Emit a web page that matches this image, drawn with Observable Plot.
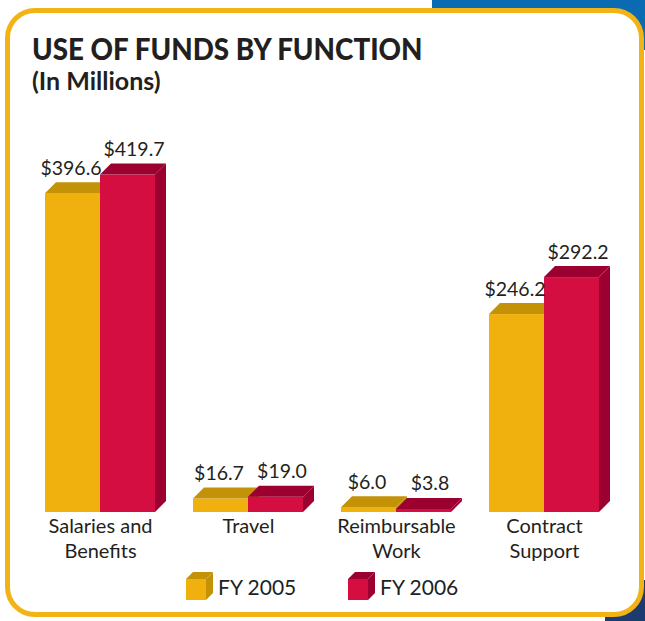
<!DOCTYPE html>
<html><head><meta charset="utf-8">
<script src="https://cdn.jsdelivr.net/npm/d3@7"></script>
<script src="https://cdn.jsdelivr.net/npm/@observablehq/plot@0.6"></script>
<style>
html,body{margin:0;padding:0;}
body{width:645px;height:621px;position:relative;overflow:hidden;background:#fff;font-family:Lato,"Open Sans",sans-serif;color:#231f20;}
#blue{position:absolute;left:432px;top:0;width:213px;height:50px;background:#0a6ab2;}
#navy{position:absolute;left:605px;top:580px;width:40px;height:41px;background:#1c3b70;}
#frame{position:absolute;left:5px;top:8px;width:639px;height:609px;box-sizing:border-box;border:5px solid #f2b316;border-radius:30px;background:#fff;}
#title{position:absolute;left:32px;top:33px;font-weight:900;font-size:30px;line-height:1;white-space:nowrap;transform-origin:0 0;transform:scaleX(0.926);}
#subtitle{position:absolute;left:32px;top:68px;font-weight:700;font-size:25px;line-height:1;white-space:nowrap;}
#chart{position:absolute;left:0;top:100px;}
#chart svg{background:transparent;overflow:visible;}
.leg{position:absolute;top:572px;height:28px;display:flex;align-items:center;font-size:21px;white-space:nowrap;}
.leg svg{margin-right:5px;}
</style></head><body>
<div id="blue"></div><div id="navy"></div>
<div id="frame"></div>
<div id="title">USE OF FUNDS BY FUNCTION</div>
<div id="subtitle">(In Millions)</div>
<div id="chart"></div>
<div id="legend"></div>
<script>
const categories = ["Salaries and\nBenefits", "Travel", "Reimbursable\nWork", "Contract\nSupport"];
const seriesNames = ["FY 2005", "FY 2006"];
const fy2005 = [396.6, 16.7, 6.0, 246.2];
const fy2006 = [419.7, 19.0, 3.8, 292.2];
const frontColors = ["#f0b10f", "#d40e41"];
const darkColors = ["#c39207", "#9c0030"];

// geometry in data units (x: category index, y: millions)
const W = 55 / 148;      // bar width
const DX = 11 / 148;     // depth offset x
const DY = 11 / 0.804;   // depth offset y
const labelShift = [-2 / 148, 6 / 148];

const bars = [];
categories.forEach((c, i) => {
  bars.push({id: "a" + i, i, s: 0, x1: i - W, x2: i, v: fy2005[i]});
  bars.push({id: "b" + i, i, s: 1, x1: i, x2: i + W, v: fy2006[i]});
});
const topFace = b => [
  {id: b.id, s: b.s, x: b.x1, y1: b.v, y2: b.v},
  {id: b.id, s: b.s, x: b.x1 + DX, y1: b.v, y2: b.v + DY},
  {id: b.id, s: b.s, x: b.x2, y1: b.v, y2: b.v + DY},
  {id: b.id, s: b.s, x: b.x2 + DX, y1: b.v + DY, y2: b.v + DY}
];
const sideFace = b => [
  {id: b.id, s: b.s, x: b.x2, y1: 0, y2: b.v},
  {id: b.id, s: b.s, x: b.x2 + DX, y1: DY, y2: b.v + DY}
];

const catLines = categories.flatMap((c, i) => c.split("\n").map((t, j) => ({i, j, t})));

const marks = [];
[0, 1].forEach(s => {
  const bs = bars.filter(b => b.s === s);
  marks.push(Plot.areaY(bs.flatMap(sideFace), {x: "x", y1: "y1", y2: "y2", z: "id", fill: darkColors[s]}));
  marks.push(Plot.rect(bs, {x1: "x1", x2: "x2", y1: 0, y2: "v", fill: frontColors[s]}));
  marks.push(Plot.areaY(bs.flatMap(topFace), {x: "x", y1: "y1", y2: "y2", z: "id", fill: darkColors[s]}));
});
marks.push(Plot.text(bars, {
  x: d => (d.x1 + d.x2) / 2 + labelShift[d.s], y: d => d.v + DY,
  text: d => "$" + d.v.toFixed(1), lineAnchor: "bottom", dy: -8,
  fontSize: 19.5, fill: "#231f20"
}));
marks.push(Plot.text(catLines.filter(d => d.j === 0), {x: "i", y: () => 0, text: "t", lineAnchor: "bottom", dy: 20, fontSize: 20, fill: "#231f20"}));
marks.push(Plot.text(catLines.filter(d => d.j === 1), {x: "i", y: () => 0, text: "t", lineAnchor: "bottom", dy: 45, fontSize: 20, fill: "#231f20"}));

const chart = Plot.plot({
  width: 645, height: 521,
  marginLeft: 26, marginRight: 27, marginTop: 10, marginBottom: 109,
  x: {type: "linear", domain: [-0.5, 3.5], axis: null},
  y: {type: "linear", domain: [0, 500], axis: null},
  style: {fontFamily: "Lato, 'Open Sans', sans-serif", background: "transparent", overflow: "visible"},
  marks
});
document.getElementById("chart").appendChild(chart);

// legend
const legendX = [186, 348];
seriesNames.forEach((name, s) => {
  const div = document.createElement("div");
  div.className = "leg";
  div.style.left = legendX[s] + "px";
  const svg = d3.create("svg").attr("width", 27).attr("height", 28);
  svg.append("rect").attr("x", 0).attr("y", 7).attr("width", 20).attr("height", 21).attr("fill", frontColors[s]);
  svg.append("path").attr("d", "M0,7 L7,0 L27,0 L20,7 Z").attr("fill", darkColors[s]);
  svg.append("path").attr("d", "M20,7 L27,0 L27,21 L20,28 Z").attr("fill", darkColors[s]);
  div.appendChild(svg.node());
  const span = document.createElement("span");
  span.textContent = name;
  div.appendChild(span);
  document.getElementById("legend").appendChild(div);
});
</script>
</body></html>
